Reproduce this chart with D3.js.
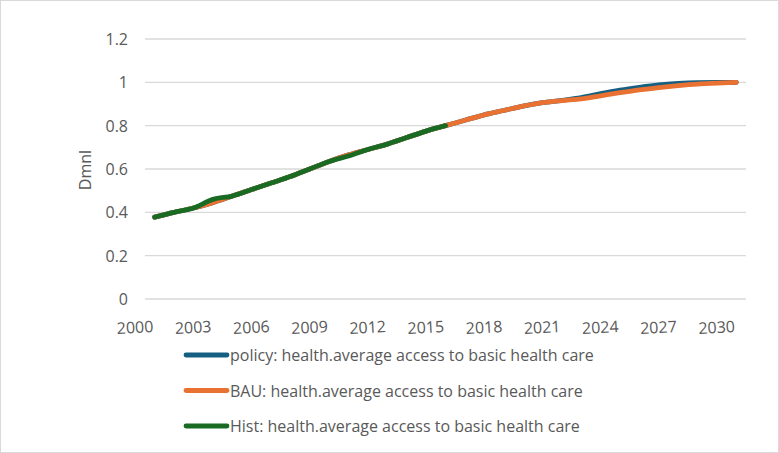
<!DOCTYPE html>
<html><head><meta charset="utf-8">
<script src="https://cdn.jsdelivr.net/npm/d3@7/dist/d3.min.js"></script>
<style>body{margin:0;background:#fff;} svg{display:block;}</style>
</head><body>
<script>
const years = d3.range(2001, 2032);
const xTicks = [2000,2003,2006,2009,2012,2015,2018,2021,2024,2027,2030];
const yTicks = [0,0.2,0.4,0.6,0.8,1,1.2];
const histYears = d3.range(2001, 2017);
const hist = [0.378,0.40,0.42,0.46,0.475,0.505,0.535,0.565,0.60,0.635,0.66,0.69,0.715,0.745,0.775,0.80];
const bau = [0.378,0.40,0.42,0.445,0.475,0.505,0.535,0.565,0.60,0.635,0.665,0.69,0.715,0.745,0.775,0.80,
             0.825,0.85,0.87,0.89,0.906,0.916,0.924,0.938,0.952,0.965,0.976,0.985,0.992,0.996,1.0];
const policy = [0.378,0.40,0.42,0.445,0.475,0.505,0.535,0.565,0.60,0.635,0.665,0.69,0.715,0.745,0.775,0.80,
             0.825,0.85,0.87,0.89,0.906,0.917,0.93,0.948,0.964,0.977,0.988,0.995,0.999,1.0,1.0];
const seriesNames = ["policy: health.average access to basic health care","BAU: health.average access to basic health care","Hist: health.average access to basic health care"];
const colors = ["#156082","#E97132","#196B24"];

const W=779,H=453;
const svg=d3.select("body").append("svg").attr("width",W).attr("height",H);
svg.append("rect").attr("x",0.5).attr("y",0.5).attr("width",W-1).attr("height",H-1).attr("fill","#fff").attr("stroke","#d9d9d9");
const x=d3.scaleLinear().domain([2000.5,2031.5]).range([145,746]);
const y=d3.scaleLinear().domain([0,1.2]).range([299,39]);
const font="'Open Sans', 'Noto Sans', sans-serif";

svg.append("g").selectAll("line").data(yTicks).join("line")
  .attr("x1",145).attr("x2",746).attr("y1",d=>y(d)).attr("y2",d=>y(d))
  .attr("stroke","#d9d9d9").attr("stroke-width",1.3);
svg.append("g").selectAll("text").data(yTicks).join("text")
  .attr("x",128).attr("y",d=>y(d)+6).attr("text-anchor","end")
  .attr("font-family",font).attr("font-size",16).attr("fill","#595959").text(d=>d);
svg.append("g").selectAll("text").data(xTicks).join("text")
  .attr("transform",d=>`translate(${x(d)},${333}) rotate(-3)`).attr("text-anchor","middle")
  .attr("font-family",font).attr("font-size",16).attr("fill","#595959").text(d=>d);
svg.append("text").attr("transform","translate(91,170) rotate(-90)").attr("text-anchor","middle")
  .attr("font-family",font).attr("font-size",16).attr("fill","#595959").text("Dmnl");

const line=d3.line().x(d=>x(d[0])).y(d=>y(d[1])).curve(d3.curveMonotoneX);
const data=[years.map((yr,i)=>[yr,policy[i]]), years.map((yr,i)=>[yr,bau[i]]), histYears.map((yr,i)=>[yr,hist[i]])];
svg.append("g").selectAll("path").data(data).join("path")
  .attr("d",line).attr("fill","none").attr("stroke",(d,i)=>colors[i])
  .attr("stroke-width",4.8).attr("stroke-linecap","round").attr("stroke-linejoin","round");

const lg=svg.append("g").selectAll("g").data(seriesNames).join("g")
  .attr("transform",(d,i)=>`translate(0,${355+i*35.5})`);
lg.append("line").attr("x1",186).attr("x2",227).attr("stroke",(d,i)=>colors[i]).attr("stroke-width",4.8).attr("stroke-linecap","round");
lg.append("text").attr("x",230).attr("y",6).attr("font-family",font).attr("font-size",16).attr("fill","#595959").text(d=>d);
</script>
</body></html>
